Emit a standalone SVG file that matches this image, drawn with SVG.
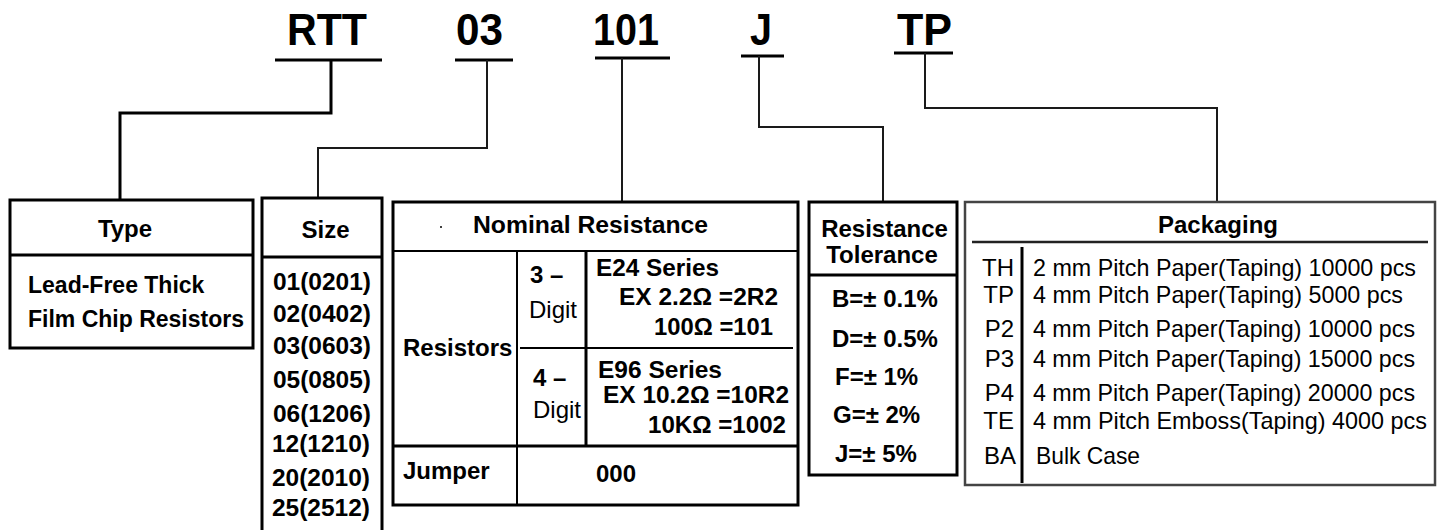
<svg xmlns="http://www.w3.org/2000/svg" width="1444" height="530" viewBox="0 0 1444 530">
<style>
text{font-family:"Liberation Sans",Arial,sans-serif;fill:#000}
.code{font-size:44px;font-weight:bold}
.b{font-size:24px;font-weight:bold}
.b23{font-size:23px;font-weight:bold}
.r{font-size:24px}
.mid{text-anchor:middle}
.end{text-anchor:end}
.box{fill:#fff;stroke:#000;stroke-width:3}
.ln{stroke:#000;stroke-width:2;fill:none}
.ul{stroke:#000;stroke-width:3}
.conn{fill:none;stroke:#1a1a1a;stroke-width:2}
</style>
<rect width="1444" height="530" fill="#fff"/>

<g id="codes">
  <g id="code-rtt"><text class="code" x="287" y="45" textLength="80" lengthAdjust="spacingAndGlyphs">RTT</text><line class="ul" x1="275" y1="60" x2="382" y2="60"/></g>
  <g id="code-03"><text class="code" x="456" y="45" textLength="47" lengthAdjust="spacingAndGlyphs">03</text><line class="ul" x1="455" y1="60" x2="513" y2="60"/></g>
  <g id="code-101"><text class="code" x="593" y="45" textLength="66" lengthAdjust="spacingAndGlyphs">101</text><line class="ul" x1="595" y1="58" x2="670" y2="58"/></g>
  <g id="code-j"><text class="code" x="750" y="45" textLength="22" lengthAdjust="spacingAndGlyphs">J</text><line class="ul" x1="741" y1="56" x2="784" y2="56"/></g>
  <g id="code-tp"><text class="code" x="897" y="45" textLength="55" lengthAdjust="spacingAndGlyphs">TP</text><line class="ul" x1="894" y1="53" x2="953" y2="53"/></g>
</g>

<g id="connectors">
  <path class="conn" style="stroke:#000;stroke-width:3" d="M331,60 V113 H120 V200"/>
  <path class="conn" d="M487,60 V148 H318 V198"/>
  <path class="conn" d="M622,58 V202"/>
  <path class="conn" d="M759,56 V127 H883 V202"/>
  <path class="conn" d="M925,53 V108 H1217 V202"/>
</g>

<g id="type">
  <rect class="box" x="10" y="200" width="243" height="148"/>
  <line class="ln" style="stroke-width:3" x1="10" y1="255" x2="253" y2="255"/>
  <text class="b mid" x="125" y="237">Type</text>
  <text class="b23" x="28" y="293">Lead-Free Thick</text>
  <text class="b23" x="28" y="327">Film Chip Resistors</text>
</g>

<g id="size">
  <rect class="box" x="262" y="198" width="120" height="345"/>
  <line class="ln" style="stroke-width:3" x1="262" y1="257" x2="382" y2="257"/>
  <text class="b mid" x="325.5" y="238">Size</text>
  <text class="b mid" style="font-size:24.5px" x="322" y="290">01(0201)</text>
  <text class="b mid" style="font-size:24.5px" x="322" y="322">02(0402)</text>
  <text class="b mid" style="font-size:24.5px" x="322" y="354">03(0603)</text>
  <text class="b mid" style="font-size:24.5px" x="322" y="388">05(0805)</text>
  <text class="b mid" style="font-size:24.5px" x="322" y="422">06(1206)</text>
  <text class="b mid" style="font-size:24.5px" x="321" y="452">12(1210)</text>
  <text class="b mid" style="font-size:24.5px" x="321" y="486">20(2010)</text>
  <text class="b mid" style="font-size:24.5px" x="321" y="516">25(2512)</text>
</g>

<g id="nominal-resistance">
  <rect class="box" x="393" y="202" width="405" height="303"/>
  <line class="ln" x1="393" y1="251" x2="798" y2="251"/>
  <line class="ln" x1="517" y1="251" x2="517" y2="505"/>
  <line class="ln" style="stroke-width:3" x1="586" y1="251" x2="586" y2="446"/>
  <line class="ln" style="stroke-width:3" x1="393" y1="446" x2="798" y2="446"/>
  <line class="ln" x1="520" y1="348" x2="793" y2="348"/>
  <circle cx="441" cy="227" r="1" fill="#000"/>
  <text class="b" x="473" y="233" textLength="235" lengthAdjust="spacingAndGlyphs">Nominal Resistance</text>
  <text class="b" x="403" y="356">Resistors</text>
  <text class="b" x="530" y="283">3 –</text>
  <text class="r" x="529" y="318">Digit</text>
  <text class="b" x="533" y="386">4 –</text>
  <text class="r" x="533" y="418">Digit</text>
  <text class="b" x="596" y="276" textLength="123" lengthAdjust="spacingAndGlyphs">E24 Series</text>
  <text class="b" x="619" y="305" textLength="159" lengthAdjust="spacingAndGlyphs">EX 2.2Ω =2R2</text>
  <text class="b" x="654" y="335" textLength="119" lengthAdjust="spacingAndGlyphs">100Ω =101</text>
  <text class="b" x="598" y="378" textLength="124" lengthAdjust="spacingAndGlyphs">E96 Series</text>
  <text class="b" x="603" y="403" textLength="186" lengthAdjust="spacingAndGlyphs">EX 10.2Ω =10R2</text>
  <text class="b" x="648" y="433" textLength="138" lengthAdjust="spacingAndGlyphs">10KΩ =1002</text>
  <text class="b" x="403" y="479">Jumper</text>
  <text class="b" x="596" y="482">000</text>
</g>

<g id="tolerance">
  <rect class="box" x="809" y="202" width="148" height="273"/>
  <line class="ln" style="stroke-width:3" x1="809" y1="275" x2="957" y2="275"/>
  <text class="b mid" x="884.5" y="237">Resistance</text>
  <text class="b mid" x="882" y="263">Tolerance</text>
  <text class="b" x="832" y="307">B=± 0.1%</text>
  <text class="b" x="832" y="347">D=± 0.5%</text>
  <text class="b" x="835" y="385">F=± 1%</text>
  <text class="b" x="833" y="423">G=± 2%</text>
  <text class="b" x="835" y="462">J=± 5%</text>
</g>

<g id="packaging">
  <rect class="box" style="stroke:#444;stroke-width:2.5" x="965" y="202" width="470" height="283"/>
  <line class="ln" style="stroke:#222;stroke-width:2.5" x1="972" y1="242" x2="1428" y2="242"/>
  <line class="ln" style="stroke-width:3" x1="1022" y1="247" x2="1022" y2="483"/>
  <text class="b mid" x="1218" y="233">Packaging</text>
  <text class="r end" x="1014" y="276">TH</text>
  <text class="r end" x="1014" y="303">TP</text>
  <text class="r end" x="1014" y="337">P2</text>
  <text class="r end" x="1014" y="367">P3</text>
  <text class="r end" x="1014" y="401">P4</text>
  <text class="r end" x="1014" y="429">TE</text>
  <text class="r end" x="1016" y="464">BA</text>
  <text class="r" x="1033" y="276" textLength="383" lengthAdjust="spacingAndGlyphs">2 mm Pitch Paper(Taping) 10000 pcs</text>
  <text class="r" x="1033" y="303" textLength="370" lengthAdjust="spacingAndGlyphs">4 mm Pitch Paper(Taping) 5000 pcs</text>
  <text class="r" x="1033" y="337" textLength="382" lengthAdjust="spacingAndGlyphs">4 mm Pitch Paper(Taping) 10000 pcs</text>
  <text class="r" x="1033" y="367" textLength="382" lengthAdjust="spacingAndGlyphs">4 mm Pitch Paper(Taping) 15000 pcs</text>
  <text class="r" x="1033" y="401" textLength="382" lengthAdjust="spacingAndGlyphs">4 mm Pitch Paper(Taping) 20000 pcs</text>
  <text class="r" x="1033" y="429" textLength="394" lengthAdjust="spacingAndGlyphs">4 mm Pitch Emboss(Taping) 4000 pcs</text>
  <text class="r" x="1036" y="464" textLength="104" lengthAdjust="spacingAndGlyphs">Bulk Case</text>
</g>
</svg>
